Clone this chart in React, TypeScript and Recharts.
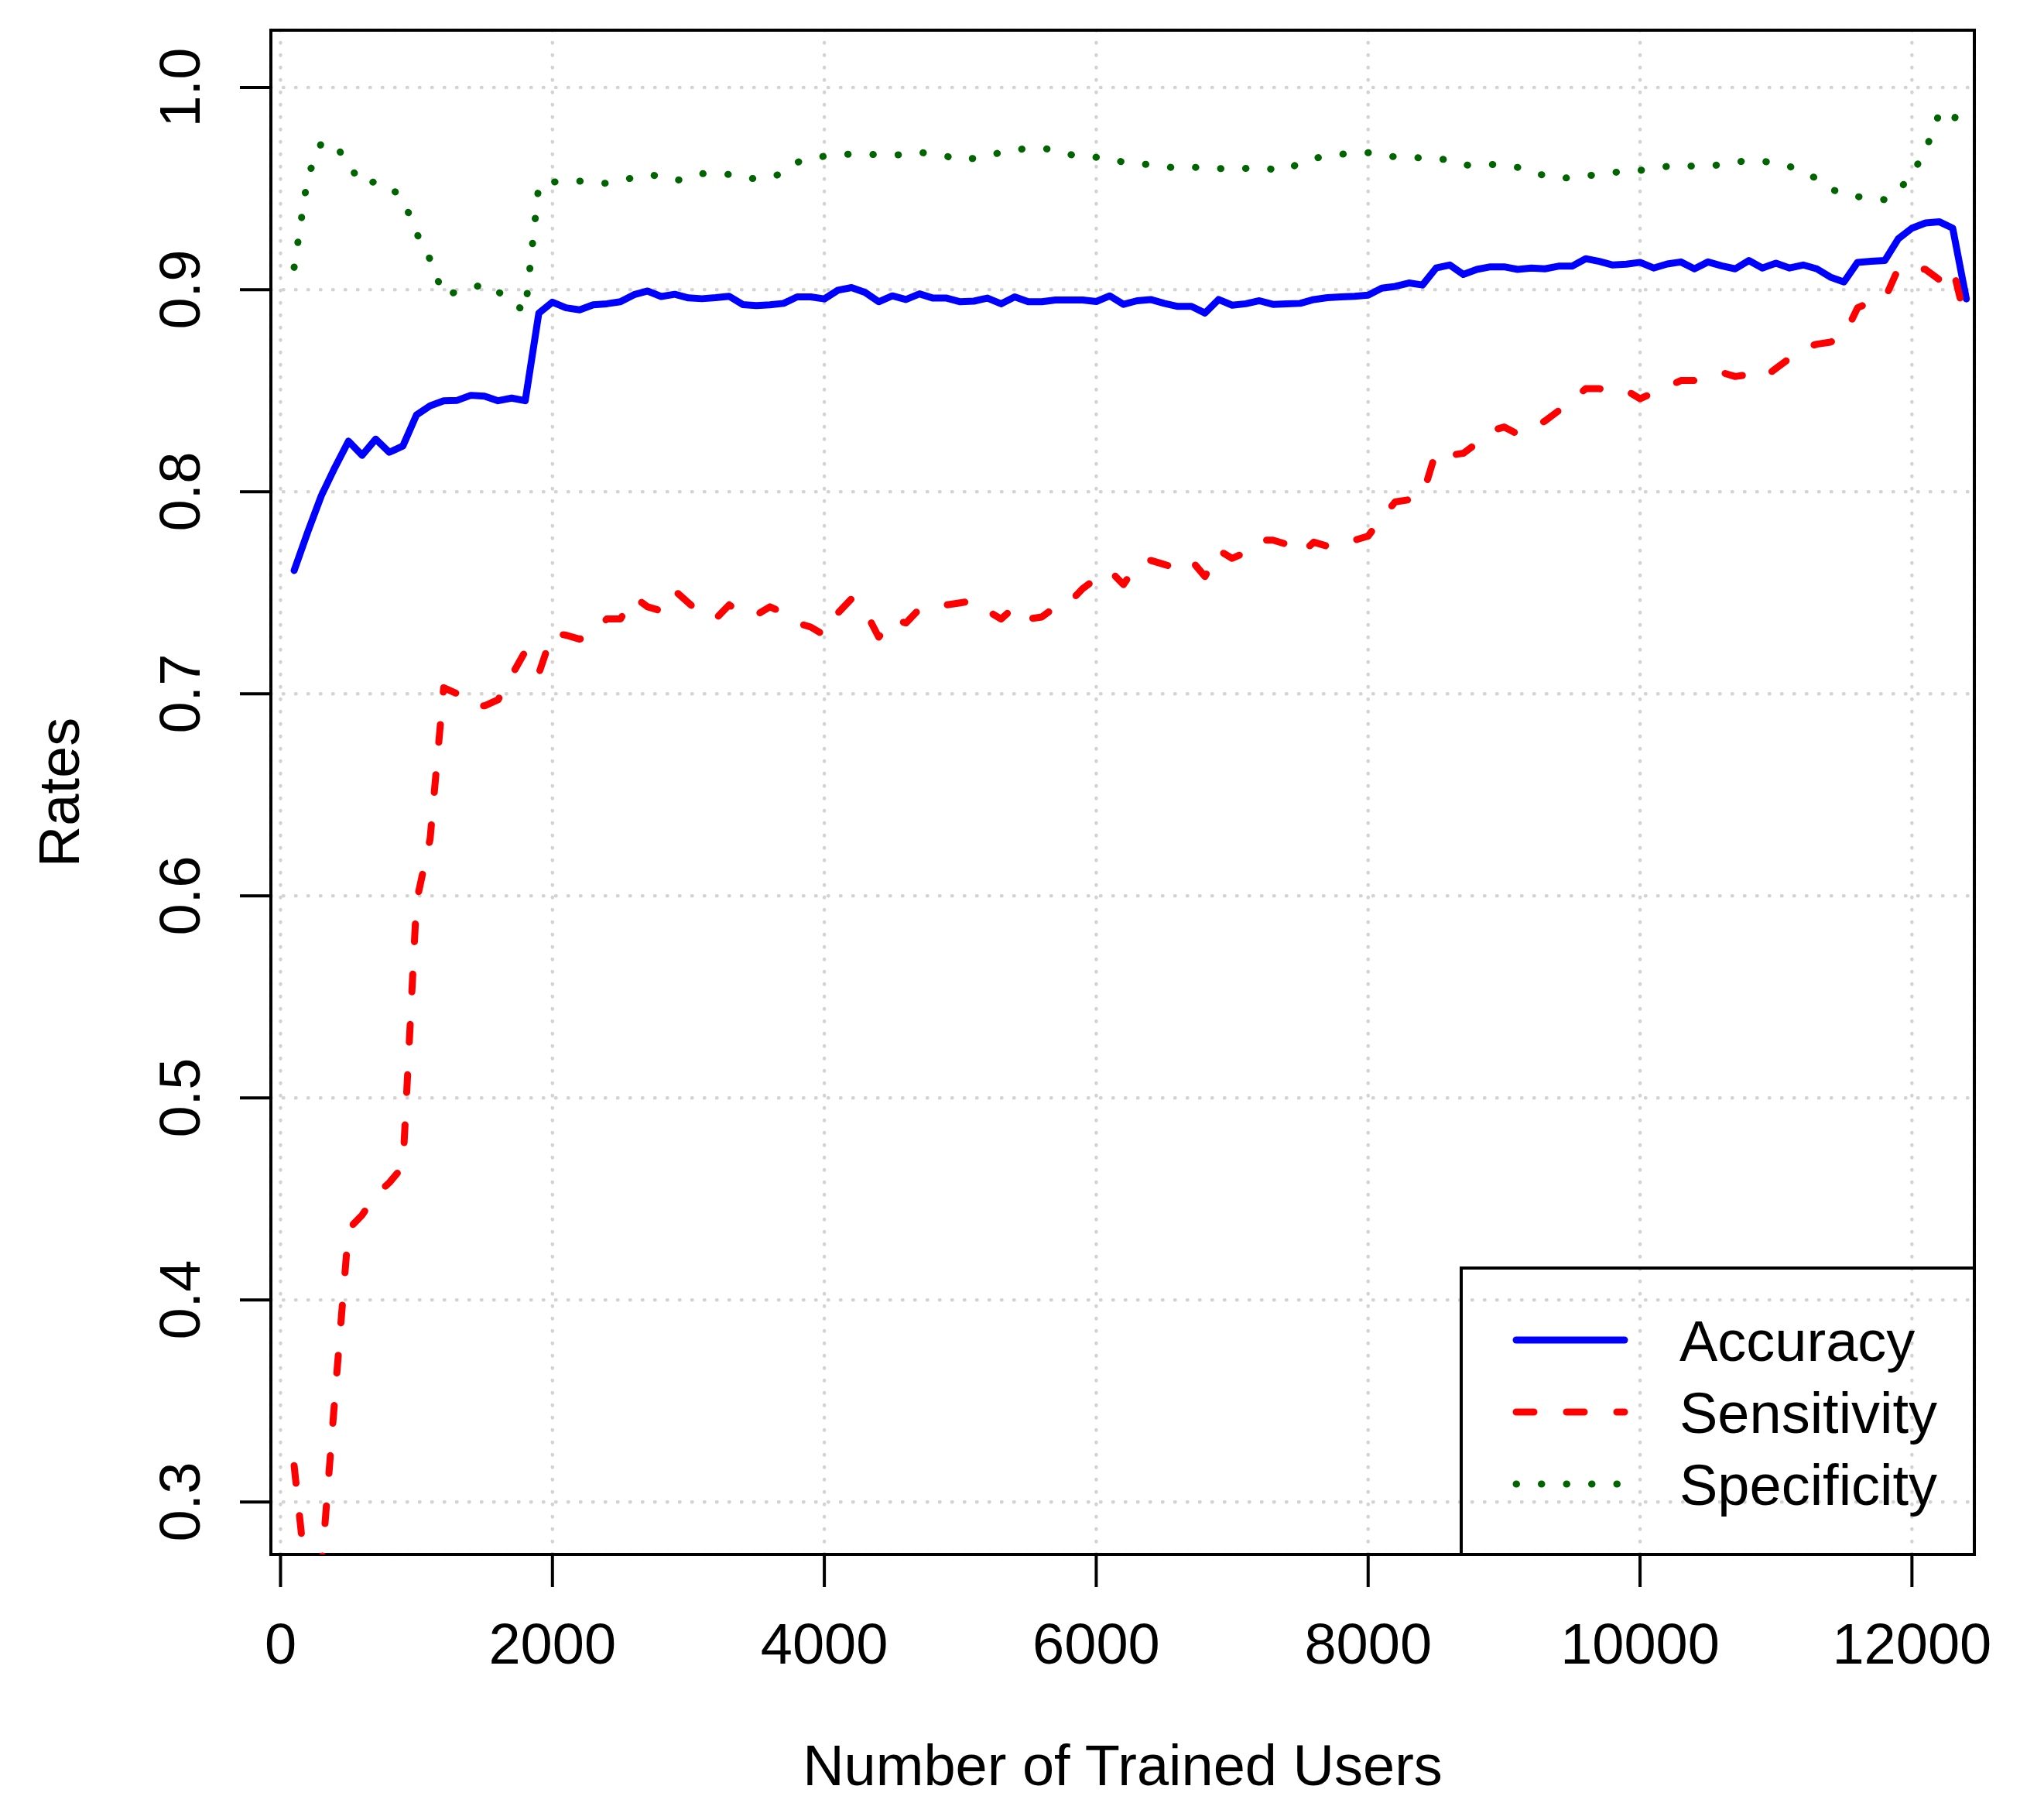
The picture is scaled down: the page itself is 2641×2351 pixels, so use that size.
import { LineChart, Line, XAxis, YAxis, CartesianGrid, ReferenceArea, Legend, Label } from "recharts";

const FONT = '"Liberation Sans", Arial, Helvetica, sans-serif';

// number of trained users (x)
const users = [
  100, 200, 300, 400, 500, 600, 700, 800, 900, 1000,
  1100, 1200, 1300, 1400, 1500, 1600, 1700, 1800, 1900, 2000,
  2100, 2200, 2300, 2400, 2500, 2600, 2700, 2800, 2900, 3000,
  3100, 3200, 3300, 3400, 3500, 3600, 3700, 3800, 3900, 4000,
  4100, 4200, 4300, 4400, 4500, 4600, 4700, 4800, 4900, 5000,
  5100, 5200, 5300, 5400, 5500, 5600, 5700, 5800, 5900, 6000,
  6100, 6200, 6300, 6400, 6500, 6600, 6700, 6800, 6900, 7000,
  7100, 7200, 7300, 7400, 7500, 7600, 7700, 7800, 7900, 8000,
  8100, 8200, 8300, 8400, 8500, 8600, 8700, 8800, 8900, 9000,
  9100, 9200, 9300, 9400, 9500, 9600, 9700, 9800, 9900, 10000,
  10100, 10200, 10300, 10400, 10500, 10600, 10700, 10800, 10900, 11000,
  11100, 11200, 11300, 11400, 11500, 11600, 11700, 11800, 11900, 12000,
  12100, 12200, 12300, 12400,
];

const accuracy = [
  0.761, 0.78, 0.798, 0.812, 0.825, 0.818, 0.826, 0.8195, 0.8226, 0.838,
  0.8425, 0.845, 0.8452, 0.8477, 0.8473, 0.845, 0.8463, 0.845, 0.8884, 0.8938,
  0.891, 0.89, 0.8925, 0.893, 0.894, 0.8975, 0.8993, 0.8966, 0.8977, 0.8959,
  0.8955, 0.896, 0.8967, 0.8926, 0.8921, 0.8925, 0.8932, 0.8964, 0.8964, 0.8954,
  0.8997, 0.901, 0.8986, 0.894, 0.8969, 0.8951, 0.8979, 0.8958, 0.8958, 0.894,
  0.8943, 0.8958, 0.893, 0.8964, 0.894, 0.894, 0.8949, 0.8949, 0.8949, 0.8941,
  0.8969, 0.8927, 0.8945, 0.8951, 0.8932, 0.8917, 0.8917, 0.8884, 0.8951, 0.8923,
  0.893, 0.8945, 0.8927, 0.893, 0.8932, 0.8951, 0.896, 0.8964, 0.8967, 0.8973,
  0.9007, 0.9016, 0.9033, 0.9023, 0.9107, 0.9122, 0.9075, 0.91, 0.9113, 0.9113,
  0.91, 0.9107, 0.9103, 0.9116, 0.9116, 0.9153, 0.914, 0.9122, 0.9126, 0.9135,
  0.9107, 0.9127, 0.9137, 0.9103, 0.9137, 0.9118, 0.9103, 0.9144, 0.9107, 0.9131,
  0.9107, 0.9122, 0.9103, 0.9062, 0.9038, 0.9135, 0.914, 0.9144, 0.9252, 0.9304,
  0.933, 0.9336, 0.9304, 0.8954,
];

const sensitivity = [
  0.318, 0.255, 0.266, 0.352, 0.435, 0.442, 0.452, 0.458, 0.466, 0.597,
  0.628, 0.703, 0.7, 0.694, 0.694, 0.697, 0.709, 0.721, 0.71, 0.73,
  0.729, 0.727, 0.73, 0.737, 0.737, 0.748, 0.743, 0.741, 0.751, 0.745,
  0.739, 0.737, 0.744, 0.739, 0.739, 0.743, 0.74, 0.735, 0.733, 0.729,
  0.74, 0.747, 0.741, 0.728, 0.737, 0.735, 0.742, 0.743, 0.744, 0.745,
  0.746, 0.741, 0.737, 0.743, 0.737, 0.738, 0.743, 0.745, 0.752, 0.757,
  0.761, 0.754, 0.764, 0.766, 0.764, 0.762, 0.766, 0.758, 0.771, 0.767,
  0.77, 0.776, 0.776, 0.774, 0.769, 0.775, 0.773, 0.776, 0.776, 0.778,
  0.787, 0.795, 0.796, 0.798, 0.82, 0.818, 0.819, 0.824, 0.83, 0.832,
  0.8285, 0.831, 0.835, 0.84, 0.845, 0.851, 0.851, 0.849, 0.85, 0.846,
  0.849, 0.852, 0.855, 0.855, 0.857, 0.859, 0.857, 0.858, 0.856, 0.861,
  0.866, 0.871, 0.873, 0.874, 0.877, 0.891, 0.894, 0.8954, 0.9105, 0.911,
  0.91, 0.905, 0.911, 0.883,
];

const specificity = [
  0.911, 0.956, 0.9725, 0.972, 0.962, 0.952, 0.9535, 0.951, 0.945, 0.928,
  0.915, 0.897, 0.899, 0.9005, 0.903, 0.899, 0.894, 0.889, 0.952, 0.9533,
  0.9535, 0.9537, 0.953, 0.9526, 0.954, 0.9555, 0.957, 0.956, 0.954, 0.955,
  0.9574, 0.9574, 0.957, 0.955, 0.955, 0.9553, 0.958, 0.963, 0.965, 0.966,
  0.967, 0.967, 0.967, 0.9668, 0.9665, 0.967, 0.968, 0.967, 0.966, 0.964,
  0.965, 0.966, 0.968, 0.969, 0.97, 0.97, 0.969, 0.967, 0.9655, 0.9655,
  0.965, 0.963, 0.962, 0.962, 0.961, 0.96, 0.9605, 0.9606, 0.96, 0.9594,
  0.96, 0.9605, 0.9595, 0.959, 0.963, 0.965, 0.966, 0.967, 0.9675, 0.9678,
  0.967, 0.9656, 0.9654, 0.9652, 0.965, 0.964, 0.9617, 0.9615, 0.962, 0.9615,
  0.9605, 0.958, 0.9565, 0.955, 0.9555, 0.9563, 0.957, 0.958, 0.9585, 0.959,
  0.96, 0.961, 0.9617, 0.961, 0.961, 0.962, 0.963, 0.964, 0.9635, 0.9628,
  0.961, 0.958, 0.955, 0.95, 0.947, 0.946, 0.9455, 0.9445, 0.949, 0.957,
  0.969, 0.987, 0.983, 0.996,
];

const xTicks = [0, 2000, 4000, 6000, 8000, 10000, 12000];
const yTicks = [0.3, 0.4, 0.5, 0.6, 0.7, 0.8, 0.9, 1.0];
const X_DOMAIN: [number, number] = [-71, 12459];
const Y_DOMAIN: [number, number] = [0.274, 1.0284];

const SERIES = [
  { key: "accuracy", name: "Accuracy", color: "#0000FF", dash: undefined as string | undefined },
  { key: "sensitivity", name: "Sensitivity", color: "#FF0000", dash: "23 42" },
  { key: "specificity", name: "Specificity", color: "#006400", dash: "0.5 32" },
];

const LINE_W = 9;

const data = users.map((u, i) => ({
  users: u,
  accuracy: accuracy[i],
  sensitivity: sensitivity[i],
  specificity: specificity[i],
}));

function YTick(props: any) {
  const { x, y, payload } = props;
  return (
    <text x={x} y={y} transform={`rotate(-90 ${x} ${y})`} textAnchor="middle"
      fontSize={74} fontFamily={FONT} fill="#000">
      {Number(payload.value).toFixed(1)}
    </text>
  );
}

function LegendBox() {
  return (
    <svg width={667} height={374} style={{ display: "block" }}>
      <rect x={2} y={2} width={663} height={370} fill="none" stroke="#000" strokeWidth={4} />
      {SERIES.map((s, i) => {
        const cy = 95 + i * 93;
        return (
          <g key={s.key}>
            <line x1={73} x2={213} y1={cy} y2={cy} stroke={s.color} strokeWidth={LINE_W}
              strokeDasharray={s.dash} strokeLinecap="round" />
            <text x={284} y={cy} dy="0.36em" fontSize={74} fontFamily={FONT} fill="#000">{s.name}</text>
          </g>
        );
      })}
    </svg>
  );
}

export default function App() {
  return (
    <div style={{ position: "absolute", left: 0, top: 0, width: 2641, height: 2351, background: "#fff" }}>
      <LineChart width={2641} height={2351} data={data} margin={{ top: 39, right: 90, bottom: 0, left: 0 }}>
        <CartesianGrid stroke="#D3D3D3" strokeWidth={4.5} strokeDasharray="0.5 15.5" strokeLinecap="round" />
        <XAxis type="number" dataKey="users" domain={X_DOMAIN} ticks={xTicks} interval={0}
          allowDataOverflow height={343} axisLine={false}
          tickLine={{ stroke: "#000", strokeWidth: 4 }} tickSize={42} tickMargin={46}
          tick={{ fontSize: 74, fill: "#000", fontFamily: FONT }}>
          <Label content={({ viewBox }: any) => (
            <text x={viewBox.x + viewBox.width / 2} y={viewBox.y + 298} textAnchor="middle"
              fontSize={74} fontFamily={FONT} fill="#000">Number of Trained Users</text>
          )} />
        </XAxis>
        <YAxis type="number" domain={Y_DOMAIN} ticks={yTicks} interval={0} allowDataOverflow
          width={350} axisLine={false} tickLine={{ stroke: "#000", strokeWidth: 4 }}
          tickSize={40} tickMargin={52} tick={<YTick />}>
          <Label content={({ viewBox }: any) => {
            const x = viewBox.x + 102;
            const y = viewBox.y + viewBox.height / 2;
            return (
              <text x={x} y={y} transform={`rotate(-90 ${x} ${y})`} textAnchor="middle"
                fontSize={74} fontFamily={FONT} fill="#000">Rates</text>
            );
          }} />
        </YAxis>
        {SERIES.map((s) => (
          <Line key={s.key} type="linear" dataKey={s.key} name={s.name} stroke={s.color}
            strokeWidth={LINE_W} strokeDasharray={s.dash} strokeLinecap="round" strokeLinejoin="round"
            dot={false} activeDot={false} isAnimationActive={false} />
        ))}
        <ReferenceArea x1={X_DOMAIN[0]} x2={X_DOMAIN[1]} y1={Y_DOMAIN[0]} y2={Y_DOMAIN[1]}
          fill="none" stroke="#000" strokeWidth={4} ifOverflow="visible" />
        <Legend layout="vertical" align="center" verticalAlign="middle" content={() => <LegendBox />}
          wrapperStyle={{ left: 1886, top: 1636, width: 667, height: 374, right: "auto", bottom: "auto" }} />
      </LineChart>
    </div>
  );
}
